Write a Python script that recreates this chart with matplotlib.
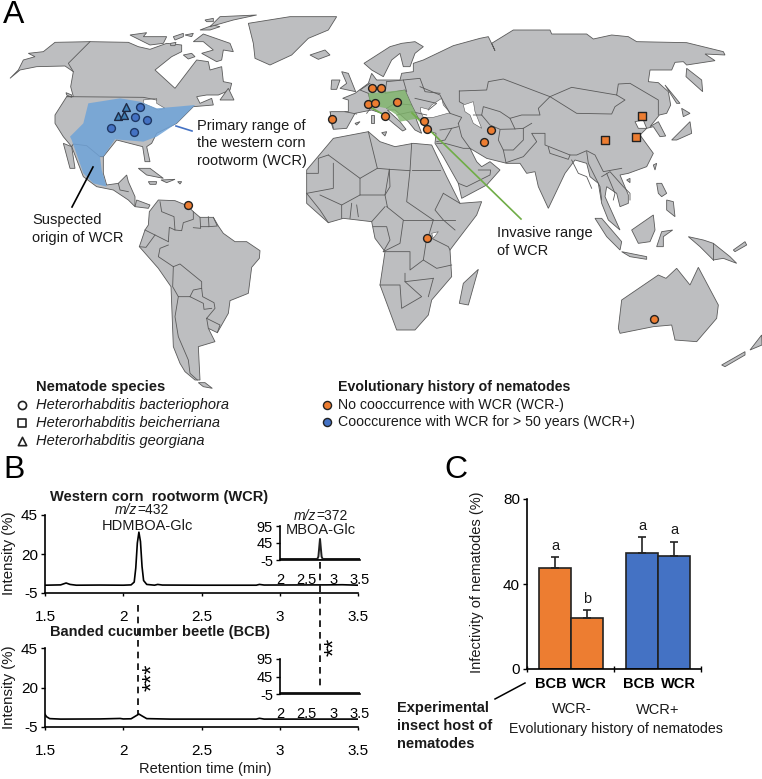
import matplotlib
matplotlib.use('Agg')
import matplotlib.pyplot as plt
from matplotlib.patches import Polygon

plt.rcParams['font.family'] = ['Liberation Sans', 'DejaVu Sans']

W, H = 762, 779
GREY = '#bdbec0'
EDGE = '#5a5a5a'
ORANGE = '#ed7d31'
BLUE = '#4472c4'

# chromatogram traces, retention time (min) vs intensity (%)
wcr_time = [1.5, 1.6, 1.62, 1.635, 1.66, 1.7, 1.85, 2.0, 2.05, 2.07, 2.08, 2.09, 2.1, 2.11, 2.12, 2.13, 2.15, 2.2, 2.22, 2.25, 2.5, 2.85, 2.87, 2.9, 3.3, 3.4, 3.5]
wcr_signal = [0, 0.2, 0.9, 1.4, 0.5, 0, 0.1, 0, 0.2, 2, 11, 27, 34, 28, 12, 3, 0.5, 0, 0.5, 0.1, 0, 0, 0.5, 0.1, 0.2, 0.3, 0]
bcb_time = [1.5, 1.51, 1.53, 1.6, 1.85, 1.98, 2.0, 2.05, 2.08, 2.1, 2.12, 2.15, 2.3, 2.85, 2.87, 2.9, 3.5]
bcb_signal = [3, 1.5, 0.3, 0, 0.1, 0.4, 0.1, 0.2, 2, 3.2, 2, 0.3, 0, 0, 0.5, 0, 0]
inset_time = [2, 2.6, 2.7, 2.72, 2.74, 2.75, 2.76, 2.78, 2.8, 3.5]
wcr_inset = [-2, -2, -2, 5, 40, 57, 40, 5, -2, -2]
bcb_inset = [-2, -2, -2, -2, -2, -2, -2, -2, -2, -2]
time_ticks = [1.5, 2, 2.5, 3, 3.5]
time_labels = ['1.5', '2', '2.5', '3', '3.5']
inset_ticks = [2, 2.5, 3, 3.5]
inset_labels = ['2', '2.5', '3', '3.5']

# infectivity bars
hosts = ['BCB', 'WCR', 'BCB', 'WCR']
infectivity = [47.5, 24, 54.5, 53]
infectivity_err = [5.2, 3.6, 7.5, 7]
letters = ['a', 'b', 'a', 'a']
bar_colors = [ORANGE, ORANGE, BLUE, BLUE]

# sampling sites
orange_sites = [(332, 119), (368, 104), (375, 103), (372, 88), (381, 88), (397, 102), (385, 116),
                (424, 121), (427, 129), (491, 130), (484, 142), (427, 238), (654, 319), (188, 205)]
square_sites = [(642, 116), (605, 140), (636, 137)]
blue_sites = [(140, 107), (135, 117), (147, 120), (111, 128), (134, 132)]
triangle_sites = [(126, 107), (118, 116), (124, 115)]


def z1(pts):
    return [(x / 3, y / 3) for x, y in pts]


def z2(pts):
    return [(300 + x / 3, 30 + y / 3) for x, y in pts]


def z5(pts):
    return [(110 + x / 3, 190 + y / 3) for x, y in pts]


def z6(pts):
    return [(320 + x / 3, 30 + y / 3) for x, y in pts]


def z8(pts):
    return [(420 + x / 3, 30 + y / 3) for x, y in pts]


def z9(pts):
    return [(340 + x / 3, 50 + y / 3) for x, y in pts]


# land shapes
land = [
    z1([(30, 235), (55, 210), (70, 180), (105, 170), (85, 160), (130, 155), (165, 127), (270, 125), (385, 127), (415, 140), (450, 148), (500, 130), (545, 135), (545, 155), (515, 170), (465, 210), (525, 265), (590, 180), (625, 185), (630, 210), (665, 200), (670, 245), (695, 250), (690, 270), (655, 285), (620, 285), (590, 290), (600, 310), (635, 295), (640, 315), (580, 320), (530, 370), (470, 400), (455, 430), (440, 440), (450, 485), (435, 485), (428, 440), (350, 420), (310, 470), (310, 520), (320, 555), (355, 550), (380, 525), (385, 545), (405, 590), (405, 620), (385, 600), (340, 570), (290, 560), (250, 530), (215, 440), (190, 410), (165, 370), (165, 345), (200, 290), (220, 290), (212, 260), (220, 215), (195, 198), (110, 200), (60, 210)]),
    z1([(745, 70), (870, 50), (1010, 50), (985, 90), (925, 115), (875, 165), (810, 195), (765, 175), (760, 130)]),
    z1([(930, 165), (975, 150), (990, 165), (955, 178)]),
    z1([(390, 105), (440, 98), (430, 110), (500, 110), (490, 130), (450, 135), (420, 120)]),
    z1([(520, 110), (550, 100), (550, 110), (525, 120)]),
    z1([(555, 105), (580, 100), (575, 110)]),
    z1([(512, 130), (528, 127), (525, 137), (512, 137)]),
    z1([(550, 165), (575, 160), (585, 170), (565, 177)]),
    z1([(580, 125), (610, 102), (690, 130), (700, 155), (670, 150), (665, 180), (650, 185), (605, 160), (640, 150), (610, 125)]),
    z1([(600, 90), (640, 75), (660, 80), (630, 90)]),
    z1([(615, 60), (640, 55), (640, 65), (620, 65)]),
    z1([(630, 80), (660, 50), (770, 45), (700, 60)]),
    z1([(415, 505), (450, 505), (490, 535), (440, 525)]),
    z1([(445, 545), (470, 545), (468, 553), (450, 553)]),
    z1([(483, 540), (525, 538), (500, 548)]),
    z1([(533, 545), (545, 545), (540, 552)]),
    z1([(660, 300), (685, 265), (702, 300)]),
    z1([(190, 430), (215, 440), (225, 505), (210, 505)]),
    z1([(198, 278), (215, 285), (215, 292), (200, 285)]),
    z1([(445, 625), (405, 620), (410, 600), (450, 615)]),
    z5([(145, 30), (195, 32), (232, 47), (250, 65), (270, 82), (310, 82), (325, 108), (340, 130), (375, 155), (410, 155), (450, 182), (448, 205), (425, 232), (415, 310), (360, 332), (355, 370), (322, 428), (295, 415), (315, 455), (265, 470), (270, 570), (255, 570), (225, 545), (210, 520), (190, 470), (183, 290), (145, 235), (88, 170), (105, 120), (115, 105), (118, 65)]),
    z5([(265, 578), (285, 578), (307, 595), (280, 590)]),
    z2([(20, 420), (100, 325), (205, 305), (240, 335), (285, 350), (340, 340), (395, 345), (440, 440), (480, 520), (545, 515), (530, 555), (465, 640), (450, 660), (455, 740), (395, 810), (385, 855), (345, 900), (290, 900), (240, 765), (255, 665), (225, 625), (215, 575), (130, 565), (85, 578), (20, 520)]),
    z2([(92, 245), (145, 245), (145, 210), (128, 205), (165, 190), (205, 160), (215, 130), (230, 150), (300, 150), (305, 130), (340, 125), (340, 100), (370, 90), (460, 47), (540, 25), (565, 20), (585, 62), (575, 40), (640, 0), (750, 0), (755, 12), (860, 12), (880, 27), (935, 15), (985, 20), (1010, 35), (1160, 38), (1270, 65), (1275, 75), (1215, 72), (1245, 92), (1160, 105), (1150, 95), (1125, 97), (1115, 120), (1050, 120), (1045, 155), (1075, 158), (1105, 185), (1112, 225), (1100, 250), (1078, 255), (1050, 290), (1075, 275), (1097, 318), (1080, 320), (1060, 290), (1040, 295), (1030, 270), (1005, 275), (1015, 295), (1040, 295), (1020, 315), (1060, 370), (1040, 410), (985, 430), (960, 435), (985, 495), (985, 520), (960, 530), (950, 490), (920, 470), (915, 500), (960, 600), (925, 570), (905, 520), (895, 460), (870, 440), (860, 400), (825, 390), (795, 430), (745, 535), (715, 470), (705, 425), (680, 430), (660, 400), (620, 400), (560, 385), (510, 355), (530, 395), (545, 410), (570, 395), (600, 420), (560, 465), (485, 505), (475, 460), (430, 380), (405, 340), (408, 310), (375, 300), (370, 275), (345, 258), (365, 310), (345, 300), (325, 275), (285, 240), (262, 240), (300, 275), (318, 298), (308, 303), (280, 280), (245, 250), (215, 240), (165, 250), (140, 295), (100, 298), (90, 268)]),
    z2([(192, 100), (270, 50), (305, 40), (345, 35), (370, 50), (345, 70), (330, 110), (310, 110), (300, 70), (275, 90), (250, 140), (215, 120)]),
    z2([(885, 565), (905, 565), (965, 635), (960, 660), (920, 620)]),
    z2([(965, 665), (1040, 680), (1040, 688), (990, 680)]),
    z2([(995, 600), (1060, 555), (1065, 600), (1050, 635), (1015, 640)]),
    z2([(1070, 650), (1085, 605), (1118, 600), (1090, 620), (1090, 650)]),
    z2([(1165, 620), (1210, 630), (1240, 640), (1290, 680), (1310, 700), (1270, 685), (1240, 690), (1200, 650)]),
    z2([(1070, 460), (1085, 460), (1100, 490), (1085, 500), (1075, 490)]),
    z2([(1100, 510), (1120, 515), (1125, 560), (1100, 540)]),
    z2([(1115, 330), (1170, 275), (1175, 310), (1130, 330)]),
    z2([(1145, 235), (1170, 250), (1150, 260)]),
    z2([(1095, 165), (1140, 220), (1130, 220)]),
    z2([(1060, 405), (1070, 400), (1065, 420)]),
    z2([(980, 450), (990, 445), (990, 458)]),
    z2([(478, 820), (490, 760), (535, 718), (505, 825)]),
    z2([(1265, 1005), (1335, 965), (1335, 975), (1275, 1010)]),
    z2([(1350, 960), (1385, 915), (1386, 945)]),
    z2([(965, 810), (1075, 735), (1098, 745), (1130, 715), (1170, 765), (1195, 712), (1255, 825), (1250, 865), (1190, 935), (1125, 930), (1115, 885), (1060, 890), (960, 910), (955, 895)]),
    z2([(212, 255), (222, 255), (222, 280), (212, 280)]),
    z2([(165, 280), (180, 275), (170, 285)]),
    z2([(245, 308), (260, 305), (255, 318)]),
    z2([(1300, 660), (1335, 635), (1340, 645), (1305, 665)]),
    z2([(1160, 115), (1205, 150), (1208, 185), (1158, 140)]),
    z6([(65, 125), (85, 130), (107, 185), (60, 175), (80, 160)]),
    z6([(35, 150), (60, 150), (50, 178), (33, 178)]),
]

# inland water
water = [
    z1([(430, 300), (470, 295), (470, 310), (495, 325), (475, 330), (430, 310)]),
    z8([(130, 225), (160, 215), (165, 245), (185, 295), (160, 280), (150, 255), (135, 245)]),
    z2([(362, 232), (385, 238), (395, 225), (425, 205), (430, 225), (450, 248), (400, 262), (370, 262), (362, 245)]),
    z2([(395, 610), (415, 605), (400, 625)]),
]

# country borders
borders = [
    z5([(150, 35), (155, 65), (192, 80), (195, 120), (178, 112), (175, 155)]),
    z5([(105, 120), (135, 135), (175, 155)]),
    z5([(88, 170), (108, 172), (135, 135)]),
    z5([(175, 165), (150, 175), (145, 200), (190, 230)]),
    z5([(190, 230), (210, 222), (275, 275), (275, 295)]),
    z5([(190, 230), (188, 290), (205, 320), (240, 320)]),
    z5([(240, 320), (250, 300), (275, 295), (278, 320), (312, 338), (315, 355), (290, 385)]),
    z5([(240, 320), (280, 340), (282, 358), (305, 355)]),
    z5([(205, 320), (195, 380), (205, 440), (235, 510), (240, 550), (262, 570)]),
    z5([(290, 385), (295, 415)]),
    z5([(290, 385), (330, 405), (322, 428)]),
    z5([(195, 120), (215, 122), (220, 98), (250, 88), (250, 65)]),
    z5([(250, 113), (272, 115), (270, 82)]),
    z5([(295, 80), (297, 110), (272, 110)]),
    z5([(310, 82), (322, 108), (297, 110)]),
    z1([(200, 290), (430, 292), (470, 300)]),
    z1([(215, 440), (220, 432), (260, 437), (300, 470), (310, 470)]),
    z1([(270, 125), (205, 190), (220, 215)]),
    z1([(355, 550), (360, 570), (385, 575)]),
    z2([(205, 305), (232, 415)]),
    z2([(85, 375), (180, 445), (232, 415), (268, 418), (330, 422), (335, 340)]),
    z2([(20, 430), (55, 430), (55, 385), (85, 375)]),
    z2([(20, 490), (100, 475), (100, 400)]),
    z2([(180, 445), (180, 495), (255, 495), (268, 418)]),
    z2([(268, 418), (270, 470), (255, 495), (262, 530)]),
    z2([(330, 422), (320, 515), (400, 570)]),
    z2([(335, 420), (420, 420)]),
    z2([(430, 490), (405, 540), (430, 570), (465, 600)]),
    z2([(480, 520), (430, 490)]),
    z2([(400, 570), (465, 570)]),
    z2([(400, 570), (385, 620), (445, 650), (450, 660)]),
    z2([(310, 570), (400, 570)]),
    z2([(260, 530), (310, 570), (300, 640), (250, 665)]),
    z2([(220, 590), (260, 590), (270, 630), (250, 665)]),
    z2([(380, 625), (370, 690), (410, 715), (455, 705)]),
    z2([(250, 665), (330, 665), (330, 720), (370, 690)]),
    z2([(315, 730), (315, 755), (365, 800), (305, 835), (300, 765), (240, 765)]),
    z2([(315, 755), (400, 745)]),
    z2([(385, 800), (400, 745)]),
    z2([(125, 565), (125, 525), (180, 495)]),
    z2([(150, 565), (155, 520)]),
    z2([(175, 560), (170, 525)]),
    z2([(20, 490), (60, 540), (85, 578)]),
    z2([(215, 575), (255, 530)]),
    z2([(60, 495), (125, 525)]),
    z8([(118, 183), (200, 180), (205, 155), (250, 147), (390, 200), (455, 172), (590, 195), (595, 162), (630, 160), (715, 210), (715, 255)]),
    z8([(390, 200), (470, 250), (575, 252), (585, 230), (615, 210), (590, 195)]),
    z8([(118, 183), (118, 215), (130, 222)]),
    z8([(185, 255), (190, 230), (240, 245), (270, 265), (305, 255), (360, 255), (355, 235), (390, 200)]),
    z8([(160, 255), (185, 255), (210, 285), (240, 298), (280, 297), (310, 295), (335, 280)]),
    z8([(270, 265), (285, 297)]),
    z8([(240, 300), (235, 330), (250, 360), (258, 398)]),
    z8([(310, 295), (310, 330), (280, 360), (250, 360)]),
    z8([(258, 398), (310, 380), (350, 335), (335, 310), (375, 310), (375, 345), (450, 375), (470, 375), (500, 362), (525, 375), (550, 425), (605, 415)]),
    z8([(385, 352), (390, 370), (445, 388), (450, 375)]),
    z8([(455, 390), (475, 430), (500, 440), (515, 475)]),
    z8([(500, 365), (505, 400), (540, 470), (545, 510)]),
    z8([(545, 440), (570, 425), (610, 470), (630, 490), (630, 510)]),
    z8([(560, 430), (585, 490), (580, 510)]),
    z8([(115, 280), (125, 320), (150, 355)]),
    z8([(60, 300), (95, 295), (115, 290)]),
    z8([(95, 295), (75, 330), (50, 335)]),
    z8([(50, 340), (75, 340), (130, 355), (150, 355)]),
    z8([(115, 460), (140, 470), (210, 435), (212, 420), (175, 420)]),
    z8([(90, 250), (125, 262), (115, 280)]),
    z8([(0, 170), (60, 195), (70, 215), (90, 250)]),
    z2([(1240, 640), (1240, 690)]),
    z9([(140, 95), (190, 90), (200, 125)]),
    z9([(190, 90), (240, 85), (255, 125), (300, 130)]),
    z9([(225, 145), (290, 160), (265, 180)]),
    z9([(85, 130), (60, 120), (90, 100)]),
    z9([(85, 130), (95, 170), (80, 190)]),
    z9([(140, 95), (135, 130), (195, 120), (215, 165), (235, 205)]),
    z9([(140, 175), (165, 160), (215, 165)]),
    z9([(170, 195), (215, 185), (260, 195)]),
    z6([(75, 245), (110, 252)]),
    z6([(30, 245), (40, 295)]),
]

invasive = z9([(85, 130), (195, 120), (215, 165), (235, 205), (180, 215), (170, 195), (140, 175), (90, 165)])
primary_range = z1([(265, 310), (360, 295), (420, 305), (470, 325), (530, 320), (585, 315), (530, 370), (470, 410), (430, 425), (345, 418), (310, 470), (300, 470), (305, 510), (320, 560), (280, 550), (250, 520), (215, 420), (210, 410), (250, 370)])


def px_axes(left, top, right, bottom):
    return fig.add_axes([left / W, 1 - bottom / H, (right - left) / W, (bottom - top) / H], facecolor='none')


def style_axes(ax, ticksize=10.5):
    ax.spines['top'].set_visible(False)
    ax.spines['right'].set_visible(False)
    ax.spines['left'].set_linewidth(1.2)
    ax.spines['bottom'].set_linewidth(1.2)
    ax.tick_params(labelsize=ticksize, width=1, length=3, pad=2)


fig = plt.figure(figsize=(W / 100, H / 100), dpi=100)
bg = fig.add_axes([0, 0, 1, 1])
bg.set_xlim(0, W)
bg.set_ylim(H, 0)
bg.axis('off')

# Map
for shape in land:
    bg.add_patch(Polygon(shape, closed=True, fc=GREY, ec=EDGE, lw=0.6, zorder=1))
for shape in water:
    bg.add_patch(Polygon(shape, closed=True, fc='white', ec=EDGE, lw=0.4, zorder=2))
for line in borders:
    bg.plot([p[0] for p in line], [p[1] for p in line], color=EDGE, lw=0.6, zorder=3)
bg.add_patch(Polygon(primary_range, closed=True, fc='#6fa3d8', ec='none', alpha=0.85, zorder=4))
bg.add_patch(Polygon(invasive, closed=True, fc='#7fb56a', ec='none', alpha=0.8, zorder=4))

bg.plot([370, 386], [107, 116], color='#70ad47', lw=1.2, zorder=5)
bg.plot([412, 521], [113, 219], color='#70ad47', lw=1.2, zorder=5)
bg.plot([176, 192], [126, 131], color='#4472c4', lw=1.2, zorder=5)
bg.plot([72, 93], [207, 167], color='black', lw=1.2, zorder=5)

bg.scatter(*zip(*orange_sites), s=32, marker='o', c=ORANGE, edgecolors='#222222', linewidths=1, zorder=6)
bg.scatter(*zip(*square_sites), s=34, marker='s', c=ORANGE, edgecolors='#222222', linewidths=1, zorder=6)
bg.scatter(*zip(*blue_sites), s=32, marker='o', c=BLUE, edgecolors='#1f3864', linewidths=1, zorder=6)
bg.scatter(*zip(*triangle_sites), s=32, marker='^', c='#3f7fb5', edgecolors='#1f2a44', linewidths=1, zorder=6)


def label(x, y, s, **kw):
    kw.setdefault('fontsize', 10.5)
    kw.setdefault('va', 'center')
    kw.setdefault('color', '#1a1a1a')
    return bg.text(x, y, s, zorder=8, **kw)


label(3, 15, 'A', fontsize=23, color='black')
label(3, 470, 'B', fontsize=23, color='black')
label(444, 470, 'C', fontsize=23, color='black')

label(197, 126, 'Primary range of')
label(197, 143, 'the western corn')
label(197, 161, 'rootworm (WCR)')
label(32, 220, 'Suspected')
label(32, 238, 'origin of WCR')
label(497, 233, 'Invasive range')
label(497, 251, 'of WCR')

# Map legends
label(36, 387, 'Nematode species', fontweight='bold')
label(36, 405, 'Heterorhabditis bacteriophora', style='italic')
label(36, 423, 'Heterorhabditis beicherriana', style='italic')
label(36, 441, 'Heterorhabditis georgiana', style='italic')
bg.scatter([22], [405], s=34, marker='o', c='white', edgecolors='#222222', linewidths=1.2, zorder=7)
bg.scatter([22], [423], s=38, marker='s', c='white', edgecolors='#222222', linewidths=1.2, zorder=7)
bg.scatter([22], [441], s=36, marker='^', c='white', edgecolors='#222222', linewidths=1.2, zorder=7)
label(338, 387, 'Evolutionary history of nematodes', fontweight='bold', fontsize=10.2)
label(338, 405, 'No cooccurrence with WCR (WCR-)', fontsize=10.2)
label(338, 422, 'Cooccurence with WCR for > 50 years (WCR+)', fontsize=10.2)
bg.scatter([327], [405], s=34, c=ORANGE, edgecolors='#222222', linewidths=1, zorder=7)
bg.scatter([327], [422], s=34, c=BLUE, edgecolors='#222222', linewidths=1, zorder=7)

# Panel B, main traces
for top, bottom, t, y in [(515, 593, wcr_time, wcr_signal), (648, 727, bcb_time, bcb_signal)]:
    ax = px_axes(45, top, 358, bottom)
    ax.plot(t, y, color='black', lw=1.2)
    ax.set_xlim(1.5, 3.5)
    ax.set_ylim(-5, 45)
    ax.set_xticks(time_ticks)
    ax.set_xticklabels(time_labels)
    ax.set_yticks([-5, 20, 45])
    ax.set_yticklabels(['-5', '20', '45'])
    style_axes(ax, 11)
    ax.tick_params(axis='x', pad=10, length=2)

# Panel B, insets
for top, bottom, y in [(526, 560, wcr_inset), (659, 694, bcb_inset)]:
    ax = px_axes(280, top, 360, bottom)
    ax.plot(inset_time, y, color='#222222', lw=1.4)
    ax.axhline(-4, color='#555555', lw=2)
    ax.set_xlim(2, 3.5)
    ax.set_ylim(-5, 95)
    ax.set_xticks(inset_ticks)
    ax.set_xticklabels(inset_labels)
    ax.set_yticks([-5, 45, 95])
    ax.set_yticklabels(['-5', '45', '95'])
    style_axes(ax, 10.5)
    ax.tick_params(axis='x', pad=9, length=0)

bg.plot([138, 138], [605, 715], color='black', lw=1.2, ls=(0, (4, 3)), zorder=5)
bg.plot([320, 320], [562, 688], color='black', lw=1.2, ls=(0, (4, 3)), zorder=5)
label(153, 677, '***', fontsize=17, rotation=90, ha='center', color='black')
label(335, 647, '**', fontsize=17, rotation=90, ha='center', color='black')

label(50, 497, 'Western corn  rootworm (WCR)', fontweight='bold')
label(50, 632, 'Banded cucumber beetle (BCB)', fontweight='bold')
label(137, 510, 'm/z', ha='right', style='italic', fontsize=10)
label(137, 510, '=432', ha='left', fontsize=10)
label(147, 526, 'HDMBOA-Glc', ha='center')
label(316, 516, 'm/z', ha='right', style='italic', fontsize=10)
label(316, 516, '=372', ha='left', fontsize=10)
label(321, 530, 'MBOA-Glc', ha='center')
label(9, 553, 'Intensity (%)', rotation=90, ha='center', fontsize=10.8)
label(9, 687, 'Intensity (%)', rotation=90, ha='center', fontsize=10.8)
label(205, 769, 'Retention time (min)', ha='center')

# Panel C
axc = px_axes(527, 499, 701, 669)
bar_x = [0.875, 1.875, 3.6, 4.6]
axc.bar(bar_x, infectivity, width=1, color=bar_colors, edgecolor='#222222', linewidth=1.2,
        yerr=[[0] * 4, infectivity_err], error_kw=dict(ecolor='#222222', elinewidth=1.2, capsize=3, capthick=1.2))
for x, v, e, s in zip(bar_x, infectivity, infectivity_err, letters):
    axc.text(x, v + e + 2, s, ha='center', va='bottom', fontsize=10.5, color='#1a1a1a')
axc.set_xlim(0, 5.44)
axc.set_ylim(0, 80)
axc.set_yticks([0, 40, 80])
axc.set_xticks([0, 2.72, 5.44])
axc.set_xticklabels([])
axc.set_xticks([0.75, 1.95, 3.5, 4.72], labels=hosts, minor=True, fontweight='bold', fontsize=10.5)
style_axes(axc, 11)
axc.tick_params(axis='x', which='minor', length=0, pad=6, labelsize=10.5)
axc.tick_params(axis='x', which='major', direction='inout', length=4)

label(477, 582, 'Infectivity of nematodes (%)', rotation=90, ha='center', fontsize=10.5)
label(572, 709, 'WCR-', ha='center')
label(658, 710, 'WCR+', ha='center')
label(616, 729, 'Evolutionary history of nematodes', ha='center', fontsize=10.2)
label(397, 708, 'Experimental', fontweight='bold')
label(397, 726, 'insect host of', fontweight='bold')
label(397, 744, 'nematodes', fontweight='bold')
bg.plot([495, 525], [699, 683], color='black', lw=1.1, zorder=5)

fig.savefig('out.png', dpi=100)
